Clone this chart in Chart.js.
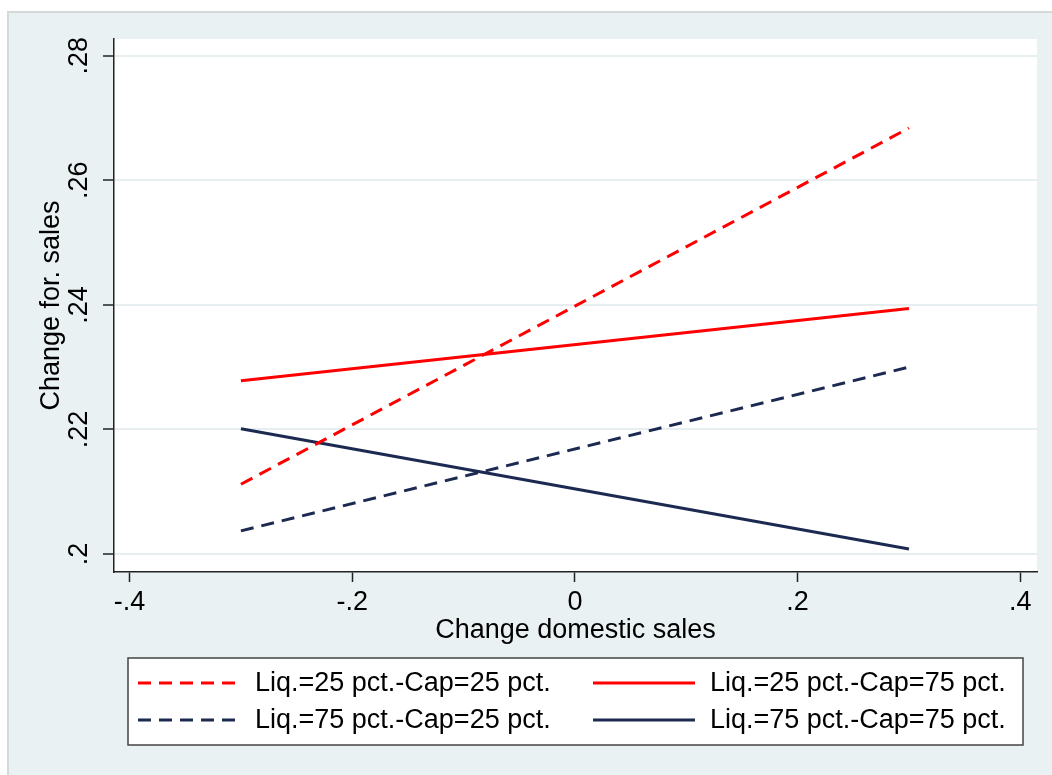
<!DOCTYPE html>
<html>
<head>
<meta charset="utf-8">
<script src="https://cdn.jsdelivr.net/npm/chart.js@4.4.0/dist/chart.umd.min.js"></script>
<style>
html, body { margin: 0; padding: 0; background: #ffffff; }
canvas { display: block; }
</style>
</head>
<body>
<canvas id="marginsChart" width="1052" height="775"></canvas>
<script>
// axis ticks
let xTicks = [-0.4, -0.2, 0, 0.2, 0.4];
let yTicks = [0.2, 0.22, 0.24, 0.26, 0.28];

// predicted values at the two ends of domestic sales change
let xPoints = [-0.3, 0.3];

let seriesNames = [
"Liq.=25 pct.-Cap=25 pct.",
"Liq.=25 pct.-Cap=75 pct.",
"Liq.=75 pct.-Cap=25 pct.",
"Liq.=75 pct.-Cap=75 pct."
];

let liq25cap25 = [0.2112, 0.2684];
let liq25cap75 = [0.2278, 0.2394];
let liq75cap25 = [0.2037, 0.2300];
let liq75cap75 = [0.2201, 0.2008];

let seriesColors = ["#ff0000", "#ff0000", "#1c2a52", "#1c2a52"];
let seriesDashes = [[13, 8], [], [13, 8], []];

function stataLabel(v){
    let s = String(+v.toFixed(2));
    return s.replace("0.", ".");
}

function makePoints(ys){
    return xPoints.map((x, i) => ({ x: x, y: ys[i] }));
}

let allSeries = [liq25cap25, liq25cap75, liq75cap25, liq75cap75];

let datasets = allSeries.map((ys, i) => ({
    label: seriesNames[i],
    data: makePoints(ys),
    borderColor: seriesColors[i],
    borderDash: seriesDashes[i],
    borderWidth: 3,
    pointRadius: 0,
    fill: false,
    tension: 0
}));

let fontFamily = "'Liberation Sans', Arial, sans-serif";
let fontSize = 27;

// outer stata-like frame + white plot region
let framePlugin = {
    id: "frame",
    beforeDraw(chart){
        let ctx = chart.ctx;
        let a = chart.chartArea;
        ctx.save();
        ctx.fillStyle = "#ffffff";
        ctx.fillRect(0, 0, chart.width, chart.height);
        ctx.fillStyle = "#eaf1f3";
        ctx.fillRect(8, 12, chart.width - 8, chart.height - 12);
        ctx.strokeStyle = "#d4d9da";
        ctx.lineWidth = 2;
        ctx.beginPath();
        ctx.moveTo(8, chart.height);
        ctx.lineTo(8, 12);
        ctx.lineTo(chart.width, 12);
        ctx.stroke();
        ctx.fillStyle = "#ffffff";
        ctx.fillRect(a.left, a.top, a.right - a.left, a.bottom - a.top);
        ctx.restore();
    }
};

// two-column boxed legend under the axis title
let legendPlugin = {
    id: "boxLegend",
    afterDraw(chart){
        let ctx = chart.ctx;
        let a = chart.chartArea;
        let boxLeft = a.left + 14;
        let boxRight = a.right - 14;
        let boxTop = chart.height - 117;
        let boxHeight = 87;
        ctx.save();
        ctx.fillStyle = "#ffffff";
        ctx.fillRect(boxLeft, boxTop, boxRight - boxLeft, boxHeight);
        ctx.strokeStyle = "#444444";
        ctx.lineWidth = 1.5;
        ctx.strokeRect(boxLeft, boxTop, boxRight - boxLeft, boxHeight);

        let colStart = [boxLeft + 10, boxLeft + 465];
        let rowY = [boxTop + 25, boxTop + 62];
        ctx.font = fontSize + "px " + fontFamily;
        ctx.textBaseline = "middle";
        ctx.textAlign = "left";

        chart.data.datasets.forEach((ds, i) => {
            let col = i % 2;
            let row = Math.floor(i / 2);
            let x0 = colStart[col];
            let y = rowY[row];
            ctx.strokeStyle = ds.borderColor;
            ctx.lineWidth = 3;
            ctx.setLineDash(ds.borderDash);
            ctx.beginPath();
            ctx.moveTo(x0, y);
            ctx.lineTo(x0 + 102, y);
            ctx.stroke();
            ctx.setLineDash([]);
            ctx.fillStyle = "#000000";
            ctx.fillText(ds.label, x0 + 117, y + 1);
        });
        ctx.restore();
    }
};

new Chart(
document.getElementById("marginsChart"),
{
    type: "line",
    data: { datasets: datasets },
    plugins: [framePlugin, legendPlugin],
    options: {
        responsive: false,
        animation: false,
        devicePixelRatio: 1,
        layout: {
            padding: { left: 0, top: 39, right: 15, bottom: 125 }
        },
        plugins: {
            legend: { display: false },
            tooltip: { enabled: false }
        },
        scales: {
            x: {
                type: "linear",
                min: -0.414,
                max: 0.415,
                afterBuildTicks: s => { s.ticks = xTicks.map(v => ({ value: v })); },
                afterFit: s => { s.height = 78; },
                ticks: {
                    color: "#000000",
                    font: { family: fontFamily, size: fontSize },
                    padding: 4,
                    maxRotation: 0,
                    callback: v => stataLabel(v)
                },
                grid: {
                    drawOnChartArea: false,
                    drawTicks: true,
                    tickLength: 10,
                    tickColor: "#222222",
                    tickWidth: 1.5
                },
                border: { display: true, color: "#222222", width: 1.5 },
                title: {
                    display: true,
                    text: "Change domestic sales",
                    color: "#000000",
                    font: { family: fontFamily, size: fontSize },
                    padding: { top: 0, bottom: 3 }
                }
            },
            y: {
                type: "linear",
                min: 0.1971,
                max: 0.2827,
                afterBuildTicks: s => { s.ticks = yTicks.map(v => ({ value: v })); },
                afterFit: s => { s.width = 114; },
                ticks: {
                    color: "#000000",
                    font: { family: fontFamily, size: fontSize },
                    padding: 5,
                    minRotation: 90,
                    maxRotation: 90,
                    crossAlign: "center",
                    callback: v => stataLabel(v)
                },
                grid: {
                    color: "#e6eef0",
                    lineWidth: 2,
                    drawTicks: true,
                    tickLength: 11,
                    tickColor: "#222222",
                    tickWidth: 1.5
                },
                border: { display: true, color: "#222222", width: 1.5 },
                title: {
                    display: true,
                    text: "Change for. sales",
                    color: "#000000",
                    font: { family: fontFamily, size: fontSize },
                    padding: { top: 35, bottom: 0 }
                }
            }
        }
    }
});
</script>
</body>
</html>
